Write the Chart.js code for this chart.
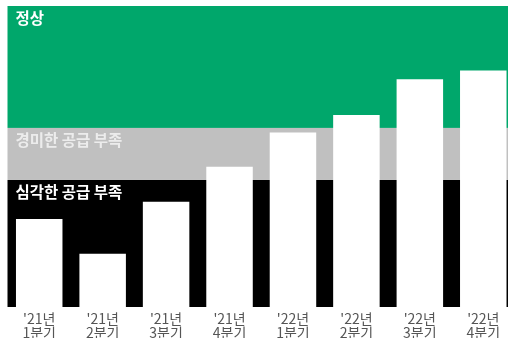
<!DOCTYPE html>
<html>
<head>
<meta charset="utf-8">
<script src="https://cdn.jsdelivr.net/npm/chart.js@4"></script>
<style>
  html, body { margin: 0; padding: 0; overflow: hidden; background: #fff; }
  #wrap { width: 515px; height: 338px; }
</style>
</head>
<body>
<div id="wrap"><canvas id="supplyChart"></canvas></div>
<script>
// categories (two-line tick labels)
const quarters = [
    ["'21년", "1분기"], ["'21년", "2분기"], ["'21년", "3분기"], ["'21년", "4분기"],
    ["'22년", "1분기"], ["'22년", "2분기"], ["'22년", "3분기"], ["'22년", "4분기"]
];
// series values (index)
const supplyIndex = [29.2, 17.7, 35.0, 46.6, 58.0, 63.8, 75.7, 78.6];
// background bands: [from, to]
const bandNames = ["심각한 공급 부족", "경미한 공급 부족", "정상"];
const bandRanges = [[0, 42.2], [42.2, 59.5], [59.5, 100]];
const bandColors = ["#000000", "#c0c0c0", "#00a76b"];
const bandTextColors = ["#ffffff", "#ececec", "#ffffff"];

const bandPlugin = {
    id: "bands",
    beforeDatasetsDraw(chart) {
        const { ctx, chartArea, scales } = chart;
        const y = scales.y;
        ctx.save();
        bandRanges.forEach((r, i) => {
            const top = y.getPixelForValue(r[1]);
            const bottom = y.getPixelForValue(r[0]);
            ctx.fillStyle = bandColors[i];
            ctx.fillRect(chartArea.left, top, chartArea.right - chartArea.left, bottom - top);
        });
        ctx.font = "bold 15.5px 'Noto Sans CJK KR', 'Noto Sans', sans-serif";
        ctx.textBaseline = "top";
        bandRanges.forEach((r, i) => {
            ctx.fillStyle = bandTextColors[i];
            ctx.fillText(bandNames[i], chartArea.left + 8, y.getPixelForValue(r[1]) + 4);
        });
        ctx.restore();
    }
};

const ctx = document.getElementById("supplyChart").getContext("2d");
new Chart(ctx, {
    type: "bar",
    data: {
        labels: quarters,
        datasets: [{
            data: supplyIndex,
            backgroundColor: "#ffffff",
            borderWidth: 0,
            barPercentage: 0.733,
            categoryPercentage: 1
        }]
    },
    options: {
        responsive: true,
        maintainAspectRatio: false,
        animation: false,
        layout: { padding: { left: 7.5, top: 6, right: 0, bottom: 0 } },
        plugins: { legend: { display: false }, tooltip: { enabled: false } },
        scales: {
            x: {
                grid: { display: false },
                border: { display: false },
                ticks: {
                    color: "#555555",
                    padding: -3,
                    maxRotation: 0,
                    font: { family: "'Noto Sans CJK KR', 'Noto Sans', sans-serif", size: 14, lineHeight: 1.0 }
                },
                afterFit(scale) { scale.height = 31; }
            },
            y: { display: false, min: 0, max: 100 }
        }
    },
    plugins: [bandPlugin]
});
</script>
</body>
</html>
